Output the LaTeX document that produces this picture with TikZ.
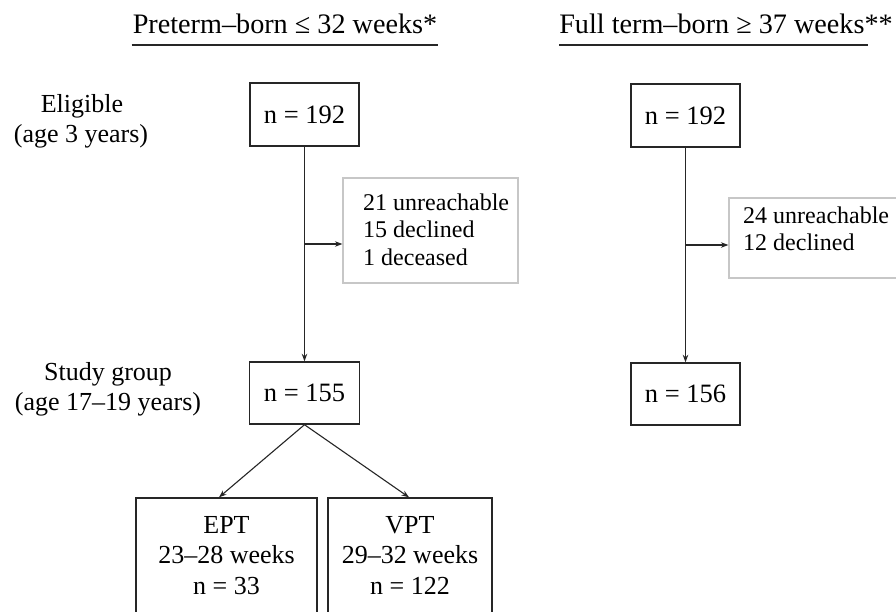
\documentclass[tikz,border=0pt]{standalone}
\usepackage{fontspec}
\setmainfont{Liberation Serif}
\usetikzlibrary{arrows.meta,calc}
\begin{document}
\begin{tikzpicture}[x=1pt,y=-1pt,
  box/.style={draw=black!85, line width=1.4pt, inner sep=0pt, font=\fontsize{26.5}{30}\selectfont},
  graybox/.style={draw=black!22, line width=1.2pt, inner sep=0pt},
  conn/.style={draw=black!85, line width=1.1pt, -{Stealth[length=7.5pt,width=5.5pt]}},
  lbl/.style={inner sep=0pt, anchor=base, font=\fontsize{26}{30}\selectfont},
  hdr/.style={inner sep=0pt, anchor=base, font=\fontsize{28.2}{30}\selectfont},
  extxt/.style={inner sep=0pt, anchor=north west, align=left, font=\fontsize{24}{27.5}\selectfont},
  grptxt/.style={inner sep=0pt, anchor=north, align=center, font=\fontsize{26}{30.5}\selectfont}
]
\useasboundingbox (0,0) rectangle (896,611);
\clip (0,0) rectangle (896,611);
\fill[white] (0,0) rectangle (896,611);

% headers
\node[hdr] (h1) at (285,33) {Preterm–born ≤ 32 weeks*};
\node[hdr] (h2) at (726,33) {Full term–born ≥ 37 weeks**};
\draw[line width=1.2pt, black!85] ($(h1.base west)+(-1,12)$) -- ($(h1.base east)+(1,12)$);
\draw[line width=1.2pt, black!85] ($(h2.base west)+(0,12)$) -- ($(h2.base east)+(-25,12)$);

% left labels
\node[lbl] (l1) at (82,112) {Eligible};
\node[lbl] (l2) at (81,142) {(age 3 years)};
\node[lbl] (l3) at (108,380) {Study group};
\node[lbl] (l4) at (108,410) {(age 17–19 years)};

% main boxes
\node[box, minimum width=109pt, minimum height=63pt] (b1) at (304.5,114.5) {n = 192};
\node[box, minimum width=110pt, minimum height=62pt] (b2) at (304.5,393) {n = 155};
\node[box, minimum width=109pt, minimum height=63pt] (b3) at (685.5,115.5) {n = 192};
\node[box, minimum width=109pt, minimum height=62pt] (b4) at (685.5,394) {n = 156};

% exclusion boxes
\node[graybox, minimum width=175pt, minimum height=105pt] (ex1) at (430.5,230.5) {};
\node[extxt] (ex1t) at (363,193.6) {21 unreachable\\15 declined\\1 deceased};
\node[graybox, minimum width=211pt, minimum height=80pt] (ex2) at (834.5,238) {};
\node[extxt] (ex2t) at (743,206.6) {24 unreachable\\12 declined};

% subgroup boxes
\node[box, minimum width=181pt, minimum height=142pt] (ept) at (226.5,569) {};
\node[grptxt] (eptt) at (226.5,515.8) {EPT\\23–28 weeks\\n = 33};
\node[box, minimum width=164pt, minimum height=142pt] (vpt) at (410,569) {};
\node[grptxt] (vptt) at (410,515.8) {VPT\\29–32 weeks\\n = 122};

% connectors
\draw[conn] (b1.south) -- (b2.north);
\draw[conn] (b3.south) -- (b4.north);
\coordinate (s1) at (304.5,244);
\coordinate (s2) at (685.5,245);
\draw[conn] (s1) -- (s1 -| ex1.west);
\draw[conn] (s2) -- (s2 -| ex2.west);
\draw[conn] (b2.south) -- ($(ept.north)+(-7.5,0)$);
\draw[conn] (b2.south) -- ($(vpt.north)+(-1,0)$);
\end{tikzpicture}
\end{document}
